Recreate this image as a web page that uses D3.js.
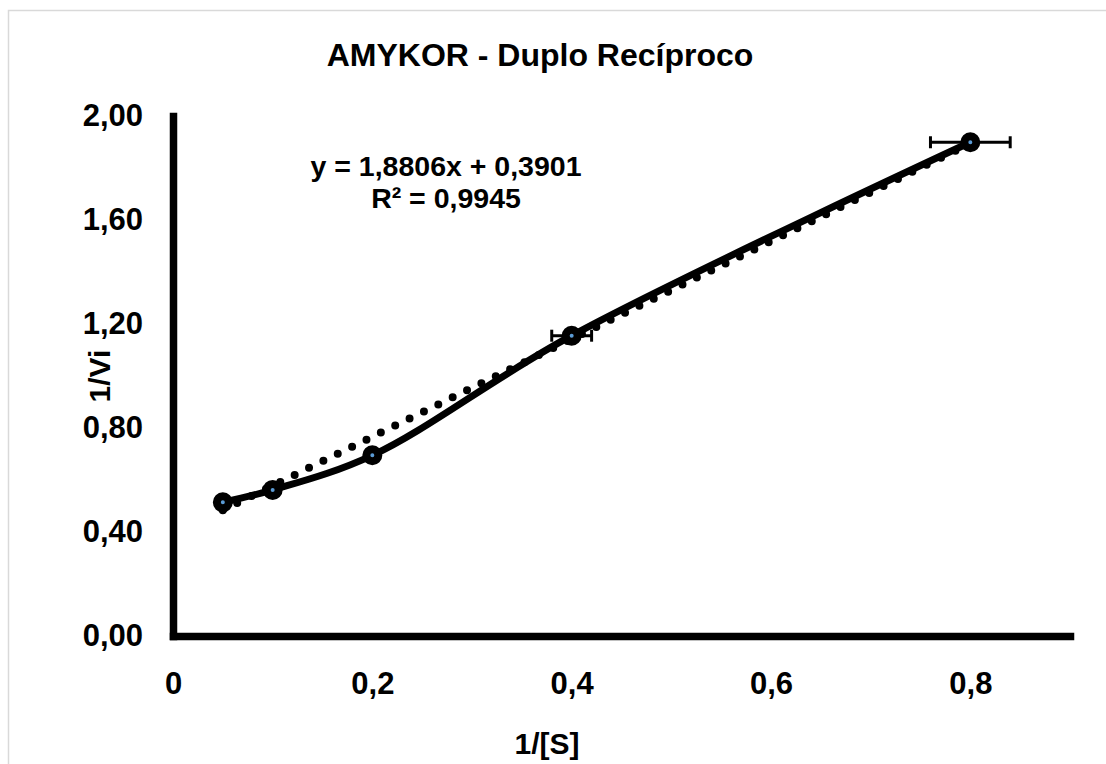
<!DOCTYPE html>
<html>
<head>
<meta charset="utf-8">
<script src="https://cdn.jsdelivr.net/npm/d3@7"></script>
<style>
  body { margin: 0; background: #fff; }
  text { font-family: "Liberation Sans", Arial, sans-serif; font-weight: bold; fill: #000; }
</style>
</head>
<body>
<div id="chart"></div>
<script>
// Data
const xValues = [0.05, 0.1, 0.2, 0.4, 0.8];
const yValues = [0.514, 0.562, 0.695, 1.155, 1.899];
const xErrors = [0, 0, 0.005, 0.02, 0.04];
const xTicks = [0, 0.2, 0.4, 0.6, 0.8];
const yTicks = [0, 0.4, 0.8, 1.2, 1.6, 2.0];
const trendCoef = [1.8806, 0.3901];   // slope, intercept
const trendText = ["y = 1,8806x + 0,3901", "R\u00b2 = 0,9945"];

const data = xValues.map((x, i) => ({ x: x, y: yValues[i], ex: xErrors[i] }));

const W = 1106, H = 764;
const svg = d3.select("#chart").append("svg")
    .attr("width", W)
    .attr("height", H);

// chart area border
svg.append("rect")
    .attr("x", 8.5).attr("y", 10.5)
    .attr("width", 1200).attr("height", 900)
    .attr("fill", "none")
    .attr("stroke", "#d9d9d9")
    .attr("stroke-width", 1.5);

// scales
const x = d3.scaleLinear().domain([0, 0.9]).range([173, 1070]);
const y = d3.scaleLinear().domain([0, 2]).range([636, 116]);

// axes (thick black lines, no tick marks)
const xAxis = svg.append("g")
    .attr("transform", `translate(0,${y(0)})`)
    .call(d3.axisBottom(x).tickValues(xTicks).tickSize(0).tickPadding(36)
        .tickFormat(d => d === 0 ? "0" : d3.format(".1f")(d).replace(".", ",")));
xAxis.select(".domain").attr("stroke", "#000").attr("stroke-width", 7.5).attr("stroke-linecap", "square");
xAxis.selectAll("text").style("font-size", "31px");

const yAxis = svg.append("g")
    .attr("transform", `translate(${x(0)},0)`)
    .call(d3.axisLeft(y).tickValues(yTicks).tickSize(0).tickPadding(30)
        .tickFormat(d => d3.format(".2f")(d).replace(".", ",")));
yAxis.select(".domain").attr("stroke", "#000").attr("stroke-width", 7.5).attr("stroke-linecap", "square");
yAxis.selectAll("text").style("font-size", "31px");

// smoothed series line
const line = d3.line()
    .x(d => x(d.x))
    .y(d => y(d.y))
    .curve(d3.curveCatmullRom.alpha(0.5));

svg.append("path")
    .datum(data)
    .attr("d", line)
    .attr("fill", "none")
    .attr("stroke", "#000")
    .attr("stroke-width", 7);

// linear trendline (dotted)
const trendX = d3.extent(xValues);
svg.append("line")
    .attr("x1", x(trendX[0])).attr("y1", y(trendCoef[0] * trendX[0] + trendCoef[1]))
    .attr("x2", x(trendX[1])).attr("y2", y(trendCoef[0] * trendX[1] + trendCoef[1]))
    .attr("stroke", "#000")
    .attr("stroke-width", 8)
    .attr("stroke-linecap", "round")
    .attr("stroke-dasharray", "0 16");

// horizontal error bars
const eb = svg.selectAll(".err")
    .data(data.filter(d => d.ex > 0))
    .enter().append("g").attr("class", "err");
eb.append("line")
    .attr("x1", d => x(d.x - d.ex)).attr("x2", d => x(d.x + d.ex))
    .attr("y1", d => y(d.y)).attr("y2", d => y(d.y))
    .attr("stroke", "#000").attr("stroke-width", 3);
eb.selectAll(".cap")
    .data(d => [{ x: d.x - d.ex, y: d.y }, { x: d.x + d.ex, y: d.y }])
    .enter().append("line")
    .attr("x1", d => x(d.x)).attr("x2", d => x(d.x))
    .attr("y1", d => y(d.y) - 6).attr("y2", d => y(d.y) + 6)
    .attr("stroke", "#000").attr("stroke-width", 3);

// markers
svg.selectAll(".dot")
    .data(data)
    .enter().append("circle")
    .attr("class", "dot")
    .attr("cx", d => x(d.x))
    .attr("cy", d => y(d.y))
    .attr("r", 6)
    .attr("fill", "#5b9bd5")
    .attr("stroke", "#000")
    .attr("stroke-width", 8);

// title
svg.append("text")
    .attr("x", 540).attr("y", 66)
    .attr("text-anchor", "middle")
    .style("font-size", "32px")
    .text("AMYKOR - Duplo Rec\u00edproco");

// trendline equation
svg.selectAll(".eq")
    .data(trendText)
    .enter().append("text")
    .attr("class", "eq")
    .attr("x", 446)
    .attr("y", (d, i) => 176 + i * 32)
    .attr("text-anchor", "middle")
    .style("font-size", "28.5px")
    .text(d => d);

// axis titles
svg.append("text")
    .attr("x", 547).attr("y", 754)
    .attr("text-anchor", "middle")
    .style("font-size", "30px")
    .text("1/[S]");
svg.append("text")
    .attr("transform", "translate(110,376) rotate(-90)")
    .attr("text-anchor", "middle")
    .style("font-size", "30px")
    .text("1/Vi");
</script>
</body>
</html>
